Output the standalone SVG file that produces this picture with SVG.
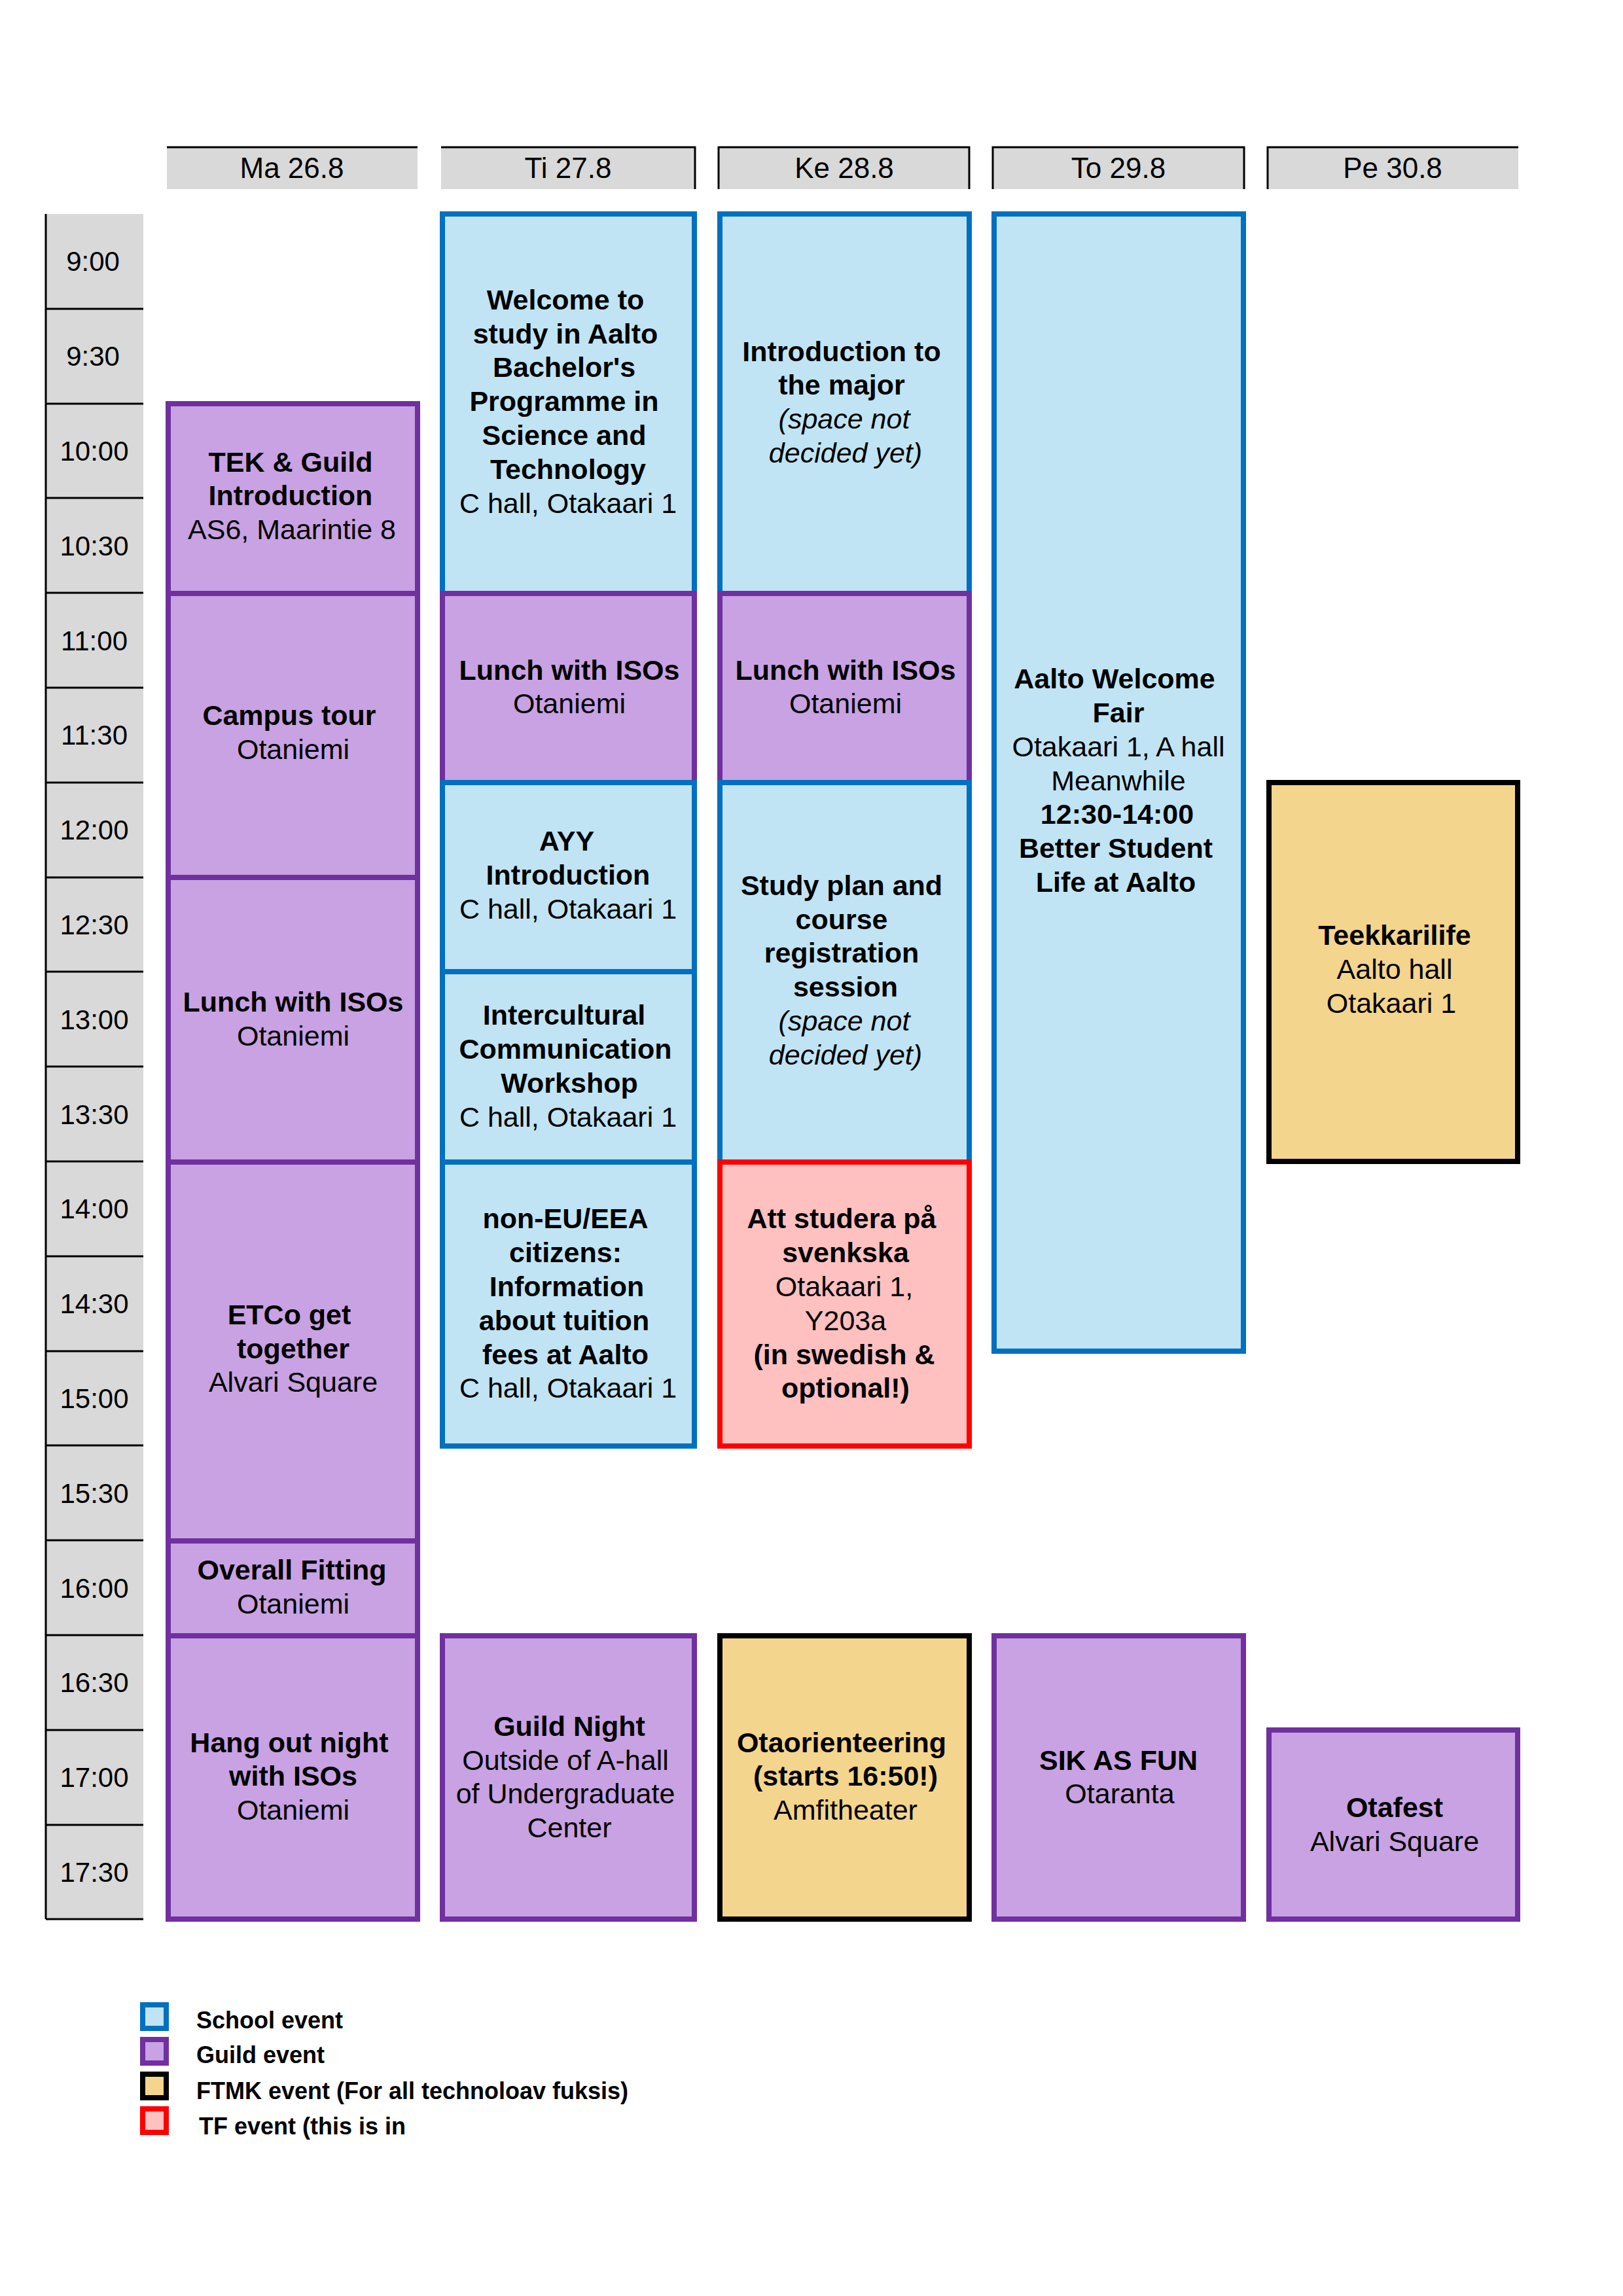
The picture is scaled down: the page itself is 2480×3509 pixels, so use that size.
<svg xmlns="http://www.w3.org/2000/svg" width="2480" height="3509" viewBox="0 0 2480 3509">
<style>
text{font-family:"Liberation Sans",Arial,sans-serif;text-anchor:middle;dominant-baseline:central;fill:#000}
.ev{font-size:43px}
.b{font-weight:bold}
.i{font-style:italic}
.hd{font-size:44px}
.tm{font-size:42px}
.lg{font-size:36px;font-weight:bold;text-anchor:start}
.s{fill:#c0e4f4;stroke:#0070c0;stroke-width:8}
.g{fill:#c8a2e2;stroke:#7030a0;stroke-width:8}
.f{fill:#f4d58d;stroke:#000;stroke-width:8}
.t{fill:#ffc0c0;stroke:#ff0000;stroke-width:8}
.hb{fill:#d9d9d9}
</style>
<rect width="2480" height="3509" fill="#fff"/>
<g id="headers">
<rect class="hb" x="255" y="225" width="383" height="64"/><line x1="255" y1="225" x2="638" y2="225" stroke="#000" stroke-width="3"/><text class="hd" x="446" y="256">Ma 26.8</text>
<rect class="hb" x="674" y="225" width="388" height="64"/><path d="M674 225H1062V289" fill="none" stroke="#000" stroke-width="3"/><text class="hd" x="868" y="256">Ti 27.8</text>
<rect class="hb" x="1098" y="225" width="383" height="64"/><path d="M1098 289V225H1481V289" fill="none" stroke="#000" stroke-width="3"/><text class="hd" x="1290" y="256">Ke 28.8</text>
<rect class="hb" x="1517" y="225" width="384" height="64"/><path d="M1517 289V225H1901V289" fill="none" stroke="#000" stroke-width="3"/><text class="hd" x="1709" y="256">To 29.8</text>
<rect class="hb" x="1937" y="225" width="383" height="64"/><path d="M1937 289V225H2320" fill="none" stroke="#000" stroke-width="3"/><text class="hd" x="2128" y="256">Pe 30.8</text>
</g>
<g id="times">
<rect class="hb" x="70" y="327" width="149" height="2606"/>
<g stroke="#000" stroke-width="3">
<line x1="70" y1="327" x2="70" y2="2933"/>
<line x1="70" y1="472" x2="219" y2="472"/><line x1="70" y1="617" x2="219" y2="617"/><line x1="70" y1="761" x2="219" y2="761"/><line x1="70" y1="906" x2="219" y2="906"/><line x1="70" y1="1051" x2="219" y2="1051"/><line x1="70" y1="1196" x2="219" y2="1196"/><line x1="70" y1="1341" x2="219" y2="1341"/><line x1="70" y1="1485" x2="219" y2="1485"/><line x1="70" y1="1630" x2="219" y2="1630"/><line x1="70" y1="1775" x2="219" y2="1775"/><line x1="70" y1="1920" x2="219" y2="1920"/><line x1="70" y1="2065" x2="219" y2="2065"/><line x1="70" y1="2209" x2="219" y2="2209"/><line x1="70" y1="2354" x2="219" y2="2354"/><line x1="70" y1="2499" x2="219" y2="2499"/><line x1="70" y1="2644" x2="219" y2="2644"/><line x1="70" y1="2789" x2="219" y2="2789"/><line x1="70" y1="2933" x2="219" y2="2933"/>
</g>
<text class="tm" x="142" y="399">9:00</text><text class="tm" x="142" y="544">9:30</text><text class="tm" x="144" y="689">10:00</text><text class="tm" x="144" y="834">10:30</text><text class="tm" x="144" y="979">11:00</text><text class="tm" x="144" y="1123">11:30</text><text class="tm" x="144" y="1268">12:00</text><text class="tm" x="144" y="1413">12:30</text><text class="tm" x="144" y="1558">13:00</text><text class="tm" x="144" y="1703">13:30</text><text class="tm" x="144" y="1847">14:00</text><text class="tm" x="144" y="1992">14:30</text><text class="tm" x="144" y="2137">15:00</text><text class="tm" x="144" y="2282">15:30</text><text class="tm" x="144" y="2427">16:00</text><text class="tm" x="144" y="2571">16:30</text><text class="tm" x="144" y="2716">17:00</text><text class="tm" x="144" y="2861">17:30</text>
</g>
<g id="ma-tek"><rect class="g" x="257" y="617" width="381" height="290"/><text class="ev b" x="444" y="706">TEK &amp; Guild</text><text class="ev b" x="444" y="757">Introduction</text><text class="ev" x="446" y="809">AS6, Maarintie 8</text></g>
<g id="ma-campus"><rect class="g" x="257" y="907" width="381" height="434"/><text class="ev b" x="442" y="1093">Campus tour</text><text class="ev" x="448" y="1145">Otaniemi</text></g>
<g id="ma-lunch"><rect class="g" x="257" y="1341" width="381" height="435"/><text class="ev b" x="448" y="1531">Lunch with ISOs</text><text class="ev" x="448" y="1583">Otaniemi</text></g>
<g id="ma-etco"><rect class="g" x="257" y="1776" width="381" height="579"/><text class="ev b" x="442" y="2009">ETCo get</text><text class="ev b" x="448" y="2061">together</text><text class="ev" x="448" y="2112">Alvari Square</text></g>
<g id="ma-fitting"><rect class="g" x="257" y="2355" width="381" height="145"/><text class="ev b" x="446" y="2399">Overall Fitting</text><text class="ev" x="448" y="2451">Otaniemi</text></g>
<g id="ma-hangout"><rect class="g" x="257" y="2500" width="381" height="433"/><text class="ev b" x="442" y="2663">Hang out night</text><text class="ev b" x="448" y="2714">with ISOs</text><text class="ev" x="448" y="2766">Otaniemi</text></g>
<g id="ti-welcome"><rect class="s" x="676" y="327" width="385" height="580"/><text class="ev b" x="864" y="458">Welcome to</text><text class="ev b" x="864" y="510">study in Aalto</text><text class="ev b" x="862" y="561">Bachelor's</text><text class="ev b" x="862" y="613">Programme in</text><text class="ev b" x="862" y="665">Science and</text><text class="ev b" x="868" y="717">Technology</text><text class="ev" x="868" y="769">C hall, Otakaari 1</text></g>
<g id="ti-lunch"><rect class="g" x="676" y="907" width="385" height="289"/><text class="ev b" x="870" y="1024">Lunch with ISOs</text><text class="ev" x="870" y="1075">Otaniemi</text></g>
<g id="ti-ayy"><rect class="s" x="676" y="1196" width="385" height="289"/><text class="ev b" x="866" y="1285">AYY</text><text class="ev b" x="868" y="1337">Introduction</text><text class="ev" x="868" y="1389">C hall, Otakaari 1</text></g>
<g id="ti-intercultural"><rect class="s" x="676" y="1485" width="385" height="291"/><text class="ev b" x="862" y="1551">Intercultural</text><text class="ev b" x="864" y="1603">Communication</text><text class="ev b" x="870" y="1655">Workshop</text><text class="ev" x="868" y="1707">C hall, Otakaari 1</text></g>
<g id="ti-noneu"><rect class="s" x="676" y="1776" width="385" height="434"/><text class="ev b" x="864" y="1862">non-EU/EEA</text><text class="ev b" x="864" y="1914">citizens:</text><text class="ev b" x="866" y="1966">Information</text><text class="ev b" x="862" y="2018">about tuition</text><text class="ev b" x="864" y="2070">fees at Aalto</text><text class="ev" x="868" y="2121">C hall, Otakaari 1</text></g>
<g id="ti-guildnight"><rect class="g" x="676" y="2500" width="385" height="433"/><text class="ev b" x="870" y="2638">Guild Night</text><text class="ev" x="864" y="2690">Outside of A-hall</text><text class="ev" x="864" y="2741">of Undergraduate</text><text class="ev" x="870" y="2793">Center</text></g>
<g id="ke-intro"><rect class="s" x="1100" y="327" width="381" height="580"/><text class="ev b" x="1286" y="537">Introduction to</text><text class="ev b" x="1286" y="588">the major</text><text class="ev i" x="1290" y="640">(space not</text><text class="ev i" x="1292" y="692">decided yet)</text></g>
<g id="ke-lunch"><rect class="g" x="1100" y="907" width="381" height="289"/><text class="ev b" x="1292" y="1024">Lunch with ISOs</text><text class="ev" x="1292" y="1075">Otaniemi</text></g>
<g id="ke-studyplan"><rect class="s" x="1100" y="1196" width="381" height="580"/><text class="ev b" x="1286" y="1353">Study plan and</text><text class="ev b" x="1286" y="1405">course</text><text class="ev b" x="1286" y="1456">registration</text><text class="ev b" x="1292" y="1508">session</text><text class="ev i" x="1290" y="1560">(space not</text><text class="ev i" x="1292" y="1612">decided yet)</text></g>
<g id="ke-att"><rect class="t" x="1100" y="1776" width="381" height="434"/><text class="ev b" x="1286" y="1862">Att studera på</text><text class="ev b" x="1292" y="1914">svenkska</text><text class="ev" x="1290" y="1966">Otakaari 1,</text><text class="ev" x="1292" y="2018">Y203a</text><text class="ev b" x="1290" y="2070">(in swedish &amp;</text><text class="ev b" x="1292" y="2121">optional!)</text></g>
<g id="ke-otaorienteering"><rect class="f" x="1100" y="2500" width="381" height="433"/><text class="ev b" x="1286" y="2663">Otaorienteering</text><text class="ev b" x="1292" y="2714">(starts 16:50!)</text><text class="ev" x="1292" y="2766">Amfitheater</text></g>
<g id="to-fair"><rect class="s" x="1519" y="327" width="381" height="1738"/><text class="ev b" x="1703" y="1037">Aalto Welcome</text><text class="ev b" x="1709" y="1089">Fair</text><text class="ev" x="1709" y="1141">Otakaari 1, A hall</text><text class="ev" x="1709" y="1193">Meanwhile</text><text class="ev b" x="1707" y="1244">12:30-14:00</text><text class="ev b" x="1705" y="1296">Better Student</text><text class="ev b" x="1705" y="1348">Life at Aalto</text></g>
<g id="to-sik"><rect class="g" x="1519" y="2500" width="381" height="433"/><text class="ev b" x="1709" y="2690">SIK AS FUN</text><text class="ev" x="1711" y="2741">Otaranta</text></g>
<g id="pe-teekkari"><rect class="f" x="1939" y="1196" width="380" height="579"/><text class="ev b" x="2131" y="1429">Teekkarilife</text><text class="ev" x="2131" y="1481">Aalto hall</text><text class="ev" x="2126" y="1533">Otakaari 1</text></g>
<g id="pe-otafest"><rect class="g" x="1939" y="2644" width="380" height="289"/><text class="ev b" x="2131" y="2762">Otafest</text><text class="ev" x="2131" y="2814">Alvari Square</text></g>
<g id="legend">
<rect class="s" x="218" y="3064" width="36" height="36"/><text class="lg" x="300" y="3087">School event</text>
<rect class="g" x="218" y="3117" width="36" height="36"/><text class="lg" x="300" y="3140">Guild event</text>
<rect class="f" x="218" y="3170" width="36" height="36"/><text class="lg" x="300" y="3195">FTMK event (For all technoloav fuksis)</text>
<rect class="t" x="218" y="3223" width="36" height="36"/><text class="lg" x="304" y="3249">TF event (this is in</text>
</g>
<g id="connectors"/>
</svg>
